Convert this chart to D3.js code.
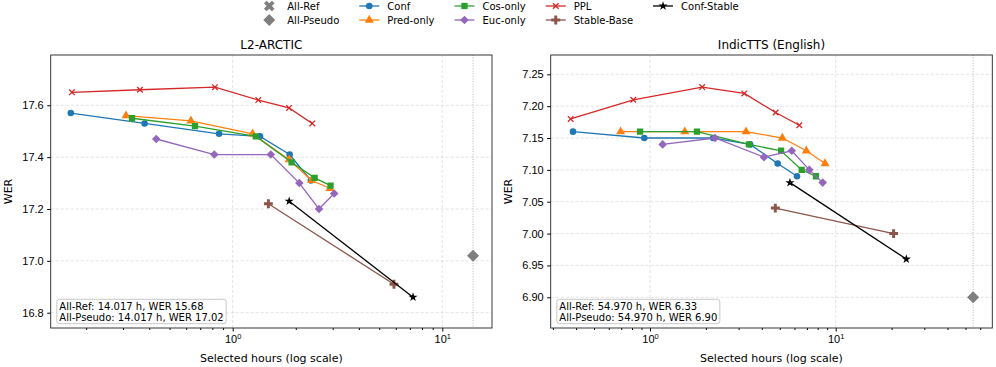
<!DOCTYPE html>
<html>
<head>
<meta charset="utf-8">
<script src="https://cdn.jsdelivr.net/npm/d3@7"></script>
<style>
  body { margin: 0; background: #fff; }
  svg { font-family: "DejaVu Sans", sans-serif; }
</style>
</head>
<body>
<div id="chart"></div>
<script>
// series order used by every panel
const seriesNames = ["Conf", "Pred-only", "Cos-only", "Euc-only", "PPL", "Stable-Base", "Conf-Stable"];
const seriesColors = ["#1f77b4", "#ff7f0e", "#2ca02c", "#9467bd", "#d62728", "#8c564b", "#000000"];

// L2-ARCTIC: selected hours and WER per series
const l2Hours = [
  [0.169, 0.38, 0.861, 1.35, 1.87, 2.36],
  [0.31, 0.632, 1.245, 1.86, 2.38, 2.91],
  [0.331, 0.661, 1.29, 1.91, 2.46, 2.93],
  [0.432, 0.817, 1.52, 2.08, 2.58, 3.05],
  [0.171, 0.361, 0.823, 1.325, 1.857, 2.398],
  [1.48, 5.88],
  [1.86, 7.25]
];
const l2Wer = [
  [17.57, 17.53, 17.49, 17.48, 17.41, 17.31],
  [17.56, 17.54, 17.49, 17.39, 17.31, 17.28],
  [17.55, 17.52, 17.48, 17.38, 17.32, 17.29],
  [17.47, 17.41, 17.41, 17.30, 17.20, 17.26],
  [17.65, 17.66, 17.67, 17.62, 17.59, 17.53],
  [17.22, 16.91],
  [17.23, 16.86]
];
const l2All = { hours: 14.017, refWer: 15.68, pseudoWer: 17.02 };
const l2YTicks = [16.8, 17.0, 17.2, 17.4, 17.6];

// IndicTTS (English)
const indicHours = [
  [0.385, 0.932, 2.19, 3.46, 4.87, 6.19],
  [0.695, 1.54, 3.29, 5.16, 6.95, 8.76],
  [0.884, 1.79, 3.41, 5.08, 6.56, 7.83],
  [1.17, 2.24, 4.11, 5.80, 7.21, 8.51],
  [0.374, 0.813, 1.91, 3.22, 4.75, 6.37],
  [4.73, 20.5],
  [5.67, 24.0]
];
const indicWer = [
  [7.16, 7.15, 7.15, 7.14, 7.11, 7.09],
  [7.16, 7.16, 7.16, 7.15, 7.13, 7.11],
  [7.16, 7.16, 7.14, 7.13, 7.10, 7.09],
  [7.14, 7.15, 7.12, 7.13, 7.10, 7.08],
  [7.18, 7.21, 7.23, 7.22, 7.19, 7.17],
  [7.04, 7.00],
  [7.08, 6.96]
];
const indicAll = { hours: 54.970, refWer: 6.33, pseudoWer: 6.90 };
const indicYTicks = [6.90, 6.95, 7.00, 7.05, 7.10, 7.15, 7.20, 7.25];

const W = 996, H = 367;
const svg = d3.select("#chart").append("svg").attr("width", W).attr("height", H);

// marker shapes
function markerPath(i) {
  switch (i) {
    case 0: return d3.symbol(d3.symbolCircle, 34)();
    case 1: return d3.symbol(d3.symbolTriangle, 36)();
    case 2: return d3.symbol(d3.symbolSquare, 40)();
    case 3: return "M0,-4.3L4.3,0L0,4.3L-4.3,0Z";
    case 4: return "M-2.8,-2.8L2.8,2.8M-2.8,2.8L2.8,-2.8";
    case 5: return d3.symbol(d3.symbolCross, 44)();
    case 6: return d3.symbol(d3.symbolStar, 26)();
  }
}
function drawMarker(g, i, x, y) {
  const p = g.append("path").attr("d", markerPath(i)).attr("transform", `translate(${x},${y})`);
  if (i === 4) p.attr("fill", "none").attr("stroke", seriesColors[i]).attr("stroke-width", 1.3);
  else p.attr("fill", seriesColors[i]);
}

const panels = [
  { id: "l2", title: "L2-ARCTIC", x0: 50.7, x1: 492, xDom: [0.1355, 17.26], yDom: [16.741, 17.794],
    hours: l2Hours, wer: l2Wer, all: l2All, yTicks: l2YTicks, fmt: d3.format(".1f") },
  { id: "in", title: "IndicTTS (English)", x0: 550.7, x1: 992.3, xDom: [0.292, 69.7], yDom: [6.8518, 7.2803],
    hours: indicHours, wer: indicWer, all: indicAll, yTicks: indicYTicks, fmt: d3.format(".2f") }
];
const plotTop = 55, plotBottom = 328;

panels.forEach(p => {
  const x = d3.scaleLog().domain(p.xDom).range([p.x0, p.x1]);
  const y = d3.scaleLinear().domain(p.yDom).range([plotBottom, plotTop]);
  const g = svg.append("g");

  svg.append("defs").append("clipPath").attr("id", "clip-" + p.id)
    .append("rect").attr("x", p.x0).attr("y", plotTop).attr("width", p.x1 - p.x0).attr("height", plotBottom - plotTop);

  const majors = [0.1, 1, 10, 100].filter(v => v >= p.xDom[0] && v <= p.xDom[1]);
  const minors = [];
  [0.1, 1, 10].forEach(dec => { for (let k = 2; k <= 9; k++) { const v = dec * k; if (v >= p.xDom[0] && v <= p.xDom[1]) minors.push(v); } });

  // grid
  const grid = g.append("g").attr("stroke", "#b0b0b0").attr("stroke-opacity", 0.45)
    .attr("stroke-dasharray", "3,2").attr("stroke-width", 0.8);
  majors.forEach(v => grid.append("line").attr("x1", x(v)).attr("x2", x(v)).attr("y1", plotTop).attr("y2", plotBottom));
  p.yTicks.forEach(v => grid.append("line").attr("x1", p.x0).attr("x2", p.x1).attr("y1", y(v)).attr("y2", y(v)));

  const plot = g.append("g").attr("clip-path", `url(#clip-${p.id})`);

  // All-Ref hours reference line
  plot.append("line").attr("x1", x(p.all.hours)).attr("x2", x(p.all.hours))
    .attr("y1", plotTop).attr("y2", plotBottom)
    .attr("stroke", "#808080").attr("stroke-opacity", 0.6).attr("stroke-width", 1)
    .attr("stroke-dasharray", "1,1.6");

  const line = d3.line().x(d => x(d[0])).y(d => y(d[1]));
  seriesNames.forEach((name, i) => {
    const pts = p.hours[i].map((h, j) => [h, p.wer[i][j]]);
    plot.append("path").datum(pts).attr("d", line).attr("fill", "none")
      .attr("stroke", seriesColors[i]).attr("stroke-width", 1.3);
    pts.forEach(d => drawMarker(plot, i, x(d[0]), y(d[1])));
  });

  // All-Ref (usually off the visible range) and All-Pseudo
  plot.append("path").attr("d", d3.symbol(d3.symbolCross, 70)())
    .attr("transform", `translate(${x(p.all.hours)},${y(p.all.refWer)}) rotate(45)`).attr("fill", "#7f7f7f");
  plot.append("path").attr("d", "M0,-6L6,0L0,6L-6,0Z")
    .attr("transform", `translate(${x(p.all.hours)},${y(p.all.pseudoWer)})`).attr("fill", "#7f7f7f");

  // axes
  const xAxis = g.append("g").attr("transform", `translate(0,${plotBottom})`)
    .call(d3.axisBottom(x).tickValues(majors).tickSize(3.5).tickPadding(3.5).tickFormat(() => ""));
  xAxis.selectAll(".tick text").each(function(d) {
    const t = d3.select(this).attr("font-size", 11).attr("fill", "#000");
    t.append("tspan").text("10");
    t.append("tspan").attr("dy", "-0.45em").attr("font-size", 7.5).text(Math.round(Math.log10(d)));
  });
  g.append("g").attr("transform", `translate(0,${plotBottom})`)
    .call(d3.axisBottom(x).tickValues(minors).tickSize(2).tickFormat(() => ""))
    .call(a => a.select(".domain").remove());

  const yAxis = g.append("g").attr("transform", `translate(${p.x0},0)`)
    .call(d3.axisLeft(y).tickValues(p.yTicks).tickSize(3.5).tickPadding(3.5).tickFormat(p.fmt));
  yAxis.selectAll(".tick text").attr("font-size", 11).attr("fill", "#000");
  [xAxis, yAxis].forEach(a => a.select(".domain").remove());

  // frame
  g.append("rect").attr("x", p.x0).attr("y", plotTop).attr("width", p.x1 - p.x0).attr("height", plotBottom - plotTop)
    .attr("fill", "none").attr("stroke", "#222").attr("stroke-width", 0.9);

  g.append("text").attr("x", (p.x0 + p.x1) / 2).attr("y", 49).attr("text-anchor", "middle")
    .attr("font-size", 12).text(p.title);
  g.append("text").attr("x", (p.x0 + p.x1) / 2).attr("y", 361.5).attr("text-anchor", "middle")
    .attr("font-size", 11).text("Selected hours (log scale)");
  g.append("text").attr("transform", `translate(${p.x0 - 39},${(plotTop + plotBottom) / 2}) rotate(-90)`)
    .attr("text-anchor", "middle").attr("font-size", 11).text("WER");

  // note box
  const note = g.append("g");
  const lines = [
    `All-Ref: ${p.all.hours.toFixed(3)} h, WER ${p.all.refWer.toFixed(2)}`,
    `All-Pseudo: ${p.all.hours.toFixed(3)} h, WER ${p.all.pseudoWer.toFixed(2)}`
  ];
  const box = note.append("rect");
  const txt = note.append("text").attr("font-size", 10);
  lines.forEach((l, k) => txt.append("tspan").attr("x", p.x0 + 8.6).attr("y", 309.5 + k * 11).text(l));
  const bb = txt.node().getBBox();
  box.attr("x", bb.x - 2.5).attr("y", bb.y - 1.2).attr("width", bb.width + 5).attr("height", bb.height + 2.4)
    .attr("rx", 2.5).attr("fill", "#fff").attr("fill-opacity", 0.8)
    .attr("stroke", "#c8c8c8").attr("stroke-width", 1);
});

// legend (5 columns, 2 rows, column-major)
const legendItems = [
  { label: "All-Ref", kind: "allref" }, { label: "All-Pseudo", kind: "allpseudo" },
  ...seriesNames.map((n, i) => ({ label: n, kind: i }))
];
const legend = svg.append("g");
const rowsY = [6, 20], handleLen = 20, textPad = 8, colGap = 20;
let cx = 0;
for (let c = 0; c * 2 < legendItems.length; c++) {
  const col = legendItems.slice(c * 2, c * 2 + 2);
  let maxW = 0;
  col.forEach((it, r) => {
    const yy = rowsY[r];
    const hg = legend.append("g");
    if (it.kind === "allref") {
      hg.append("path").attr("d", d3.symbol(d3.symbolCross, 70)())
        .attr("transform", `translate(${cx + handleLen / 2},${yy}) rotate(45)`).attr("fill", "#7f7f7f");
    } else if (it.kind === "allpseudo") {
      hg.append("path").attr("d", "M0,-6L6,0L0,6L-6,0Z")
        .attr("transform", `translate(${cx + handleLen / 2},${yy})`).attr("fill", "#7f7f7f");
    } else {
      hg.append("line").attr("x1", cx).attr("x2", cx + handleLen).attr("y1", yy).attr("y2", yy)
        .attr("stroke", seriesColors[it.kind]).attr("stroke-width", 1.3);
      drawMarker(hg, it.kind, cx + handleLen / 2, yy);
    }
    const t = legend.append("text").attr("x", cx + handleLen + textPad).attr("y", yy)
      .attr("dy", "0.35em").attr("font-size", 10).text(it.label);
    maxW = Math.max(maxW, t.node().getComputedTextLength());
  });
  cx += handleLen + textPad + maxW + colGap;
}
const totalW = cx - colGap;
legend.attr("transform", `translate(${W / 2 - totalW / 2 + 1},0)`);
</script>
</body>
</html>
